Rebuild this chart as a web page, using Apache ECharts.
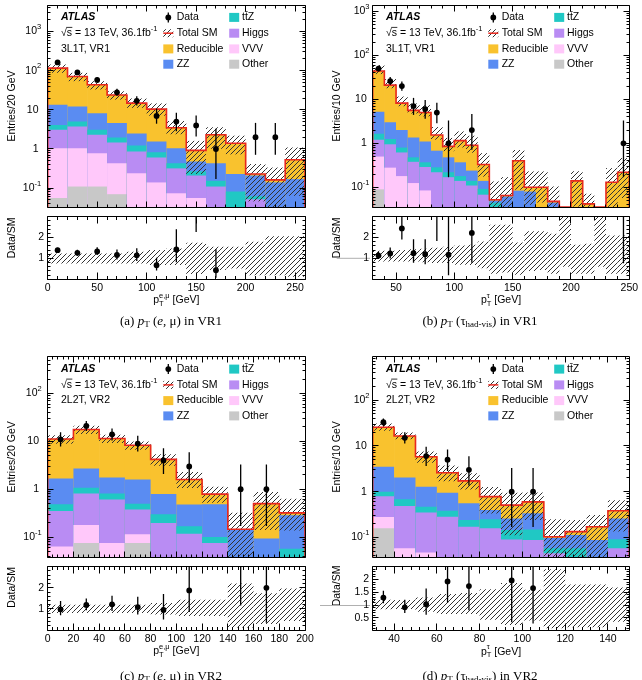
<!DOCTYPE html>
<html><head><meta charset="utf-8">
<script src="https://cdn.jsdelivr.net/npm/echarts@6.0.0/dist/echarts.min.js"></script>
<style>html,body{margin:0;padding:0;background:#fff;overflow:hidden}#chart{width:642px;height:680px}</style>
</head><body><div id="chart"></div>
<script>
// ================= DATA =================
// (a) pT(e,mu) in VR1, 3L1T  -- 20 GeV bins
const aEdges = [0,20,40,60,80,100,120,140,160,180,200,220,240,260];
const aOther = [0.056,0.11,0.11,0.07,0.02,0.01,0.01,0.01,0.005,0.003,0.003,0.003,0.003];
const aVVV = [0.99,0.94,0.67,0.36,0.22,0.13,0.064,0.046,0.025,0.017,0.027,0.012,0.012];
const aHiggs = [2.05,2.7,1.52,1.04,0.62,0.47,0.246,0.154,0.08,0.01,0.022,0.01,0.01];
const aTtZ = [1.0,1.25,0.8,0.5,0.37,0.22,0.11,0.06,0.044,0.052,0.01,0.005,0.005];
const aZZ = [9.3,7.2,5.1,2.63,1.27,0.72,0.62,0.21,0.276,0.148,0.148,0.11,0.14];
const aReducible = [102.6,58.8,35.3,19.4,12.3,8.85,2.45,0.44,1.87,1.17,0.02,0.023,0.36];
const aData = [162,90,58,28,17,7,5,4,1,0,2,2,0];
const aDataLo = [149.3,80.5,50.4,22.8,12.9,4.42,2.84,2.09,0.17,0,0.71,0.71,0];
const aDataHi = [175.2,100.5,66.6,34.3,22.1,10.77,8.38,7.16,3.3,0,4.64,4.64,0];
const aBandUp = [1.24,1.24,1.24,1.24,1.32,1.4,1.48,1.75,1.56,1.56,1.8,2.06,2.06];
const aBandDn = [0.76,0.76,0.76,0.76,0.76,0.68,0.68,0.25,0.44,0.52,0.2,0.2,0.12];

// (b) pT(tau_had-vis) in VR1, 3L1T -- 10 GeV bins
const bEdges = [30,40,50,60,70,80,90,100,110,120,130,140,150,160,170,180,190,200,210,220,230,240,250];
const bOther = [0.09,0.02,0.02,0.02,0.02,0.02,0.02,0.02,0.02,0.02,0.01,0.01,0.01,0.01,0.01,0.01,0,0.005,0.005,0,0.005,0.005];
const bVVV = [0.41,0.26,0.16,0.105,0.065,0.01,0.01,0.01,0.01,0.01,0.01,0.01,0.01,0.01,0.005,0.005,0,0.005,0.005,0,0.005,0.005];
const bHiggs = [0.7,0.67,0.44,0.255,0.205,0.19,0.14,0.11,0.08,0.038,0.01,0.005,0.005,0.005,0.005,0.005,0,0.005,0.005,0,0.005,0.005];
const bTtZ = [0.45,0.3,0.18,0.1,0.08,0.065,0.05,0.04,0.03,0.024,0.015,0.005,0.005,0.005,0.005,0.005,0,0.005,0.005,0,0.005,0.005];
const bZZ = [3.55,1.75,1.2,0.87,0.73,0.395,0.26,0.19,0.1,0.048,0.005,0.032,0.054,0.05,0.005,0.02,0,0.005,0.005,0,0.005,0.005];
const bReducible = [38.8,18,6.2,4.25,3.9,0.87,0.37,0.78,0.66,0.19,0.002,0.003,0.316,0.02,0.07,0.003,0,0.115,0.017,0,0.105,0.195];
const bData = [50,26,20,7,6,5,1,0,2,0,0,0,0,0,0,0,0,0,0,0,0,1];
const bDataLo = [43.0,21.0,15.6,4.42,3.62,2.84,0.17,0,0.71,0,0,0,0,0,0,0,0,0,0,0,0,0.17];
const bDataHi = [58.1,32.1,25.5,10.77,9.58,8.38,3.3,0,4.64,0,0,0,0,0,0,0,0,0,0,0,0,3.3];
const bBandUp = [1.37,1.37,1.41,1.44,1.47,1.51,1.56,1.62,1.65,1.81,2.62,2.62,1.76,2.3,2.3,2.18,3.2,1.66,1.7,3.2,2.1,2.1];
const bBandDn = [0.85,0.85,0.85,0.85,0.82,0.78,0.78,0.7,0.68,0.53,0.26,0.33,0.22,0.4,0.45,0.26,0.6,0.26,0.26,0.6,0.26,0.26];

// (c) pT(e,mu) in VR2, 2L2T -- 20 GeV bins
const cEdges = [0,20,40,60,80,100,120,140,160,180,200];
const cOther = [0.02,0.075,0.02,0.075,0.02,0.02,0.02,0.01,0.01,0.01];
const cVVV = [0.044,0.105,0.055,0.039,0.01,0.01,0.01,0.01,0.01,0.01];
const cHiggs = [0.286,0.63,0.535,0.262,0.168,0.088,0.045,0.01,0.01,0.01];
const cTtZ = [0.135,0.26,0.2,0.124,0.102,0.05,0.025,0.005,0.005,0.027];
const cZZ = [1.185,1.63,0.94,1.1,0.49,0.312,0.385,0.111,0.058,0.229];
const cReducible = [9.53,15,9.75,6.7,3.41,1.12,0.305,0,0.407,0.034];
const cData = [11,21,14,9,4,3,0,1,1,0];
const cDataLo = [7.8,16.5,10.4,6.1,2.09,1.37,0,0.17,0.17,0];
const cDataHi = [15.4,26.5,18.6,13.1,7.16,5.92,0,3.3,3.3,0];
const cBandUp = [1.2,1.2,1.2,1.2,1.28,1.43,1.43,2.2,1.74,1.97];
const cBandDn = [0.8,0.8,0.8,0.8,0.74,0.66,0.66,0.12,0.28,0.43];

// (d) pT(tau_had-vis) in VR2, 2L2T -- 10 GeV bins
const dEdges = [30,40,50,60,70,80,90,100,110,120,130,140,150];
const dOther = [0.16,0.02,0.02,0.02,0.02,0.02,0.02,0.02,0.01,0.01,0.01,0.01];
const dVVV = [0.12,0.038,0.027,0.01,0.01,0.01,0.01,0.01,0.01,0.01,0.01,0.02];
const dHiggs = [0.52,0.428,0.303,0.254,0.142,0.13,0.06,0.058,0.025,0.01,0.005,0.028];
const dTtZ = [0.2,0.194,0.12,0.101,0.068,0.09,0.056,0.062,0.013,0.028,0.005,0.033];
const dZZ = [2.5,1.37,0.82,0.565,0.316,0.15,0.114,0.19,0.039,0.055,0.058,0.169];
const dReducible = [22,14.35,4.51,1.65,1.164,0.38,0.25,0.26,0.007,0.021,0.084,0.125];
const dData = [33,15,6,5,3,0,1,1,0,0,0,0];
const dDataLo = [27.3,11.3,3.62,2.84,1.37,0,0.17,0.17,0,0,0,0];
const dDataHi = [39.8,19.8,9.58,8.38,5.92,0,3.3,3.3,0,0,0,0];
const dBandUp = [1.21,1.2,1.3,1.43,1.47,1.62,1.86,1.6,2.4,1.8,1.8,1.69];
const dBandDn = [0.84,0.85,0.74,0.65,0.65,0.43,0.22,0.4,0.1,0.13,0.13,0.35];

// tick labels
const aXLabels = [0,50,100,150,200,250];
const bXLabels = [50,100,150,200,250];
const cXLabels = [0,20,40,60,80,100,120,140,160,180,200];
const dXLabels = [40,60,80,100,120,140];
const mainYLabels = [0.1,1,10,100,1000];
const ratioYLabels = [1,2];
const ratioYLabelsD = [0.5,1,1.5,2];
const legendCol1 = ['Data','Total SM','Reducible','ZZ'];
const legendCol2 = ['tt\u0304Z','Higgs','VVV','Other'];

// ================= STYLE =================
const SANS = '"Liberation Sans", Arial, Helvetica, sans-serif';
const SERIF = '"Liberation Serif", "Times New Roman", Times, serif';
const fSans = (s, st) => (st ? st + ' ' : '') + s + 'px ' + SANS;
const fSerif = (s, st) => (st ? st + ' ' : '') + s + 'px ' + SERIF;
const STACK_COLORS = ['#c8c8c8','#ffc8fa','#b98cf3','#20c8c4','#5a8cf2','#f9c22e']; // other,vvv,higgs,ttz,zz,reducible
const RED = '#e8281e';

function makeHatch(color) {
  const s = 5, c = document.createElement('canvas'); c.width = s; c.height = s;
  const g = c.getContext('2d'); g.strokeStyle = color; g.lineWidth = 1;
  g.beginPath();
  g.moveTo(-1, s + 1); g.lineTo(s + 1, -1);
  g.moveTo(-1, 1); g.lineTo(1, -1);
  g.moveTo(s - 1, s + 1); g.lineTo(s + 1, s - 1);
  g.stroke();
  return c;
}
const HATCH_IMG = makeHatch('#333');
const hatch = () => ({image: HATCH_IMG, repeat: 'repeat'});

const panels = [
  {edges:aEdges, comps:[aOther,aVVV,aHiggs,aTtZ,aZZ,aReducible], data:aData, lo:aDataLo, hi:aDataHi, up:aBandUp, dn:aBandDn,
   L:47.7, W:257.3, mT:5, mH:202, rT:216.7, rH:62.6, xmin:0, xmax:260, ymin:0.033, ymax:4750, rmin:0, rmax:3, rMajor:1,
   xLabels:aXLabels, xMinor:10, rLabels:ratioYLabels, rMinor:0.2, yGap:9,
   region:'3L1T, VR1', ytitle:'Entries/20 GeV', xsup:'e,μ', tau:false, tag:'(a)', vr:'VR1', capX:171, capY:321.7, ytX:12, dsTop:217.5},
  {edges:bEdges, comps:[bOther,bVVV,bHiggs,bTtZ,bZZ,bReducible], data:bData, lo:bDataLo, hi:bDataHi, up:bBandUp, dn:bBandDn,
   L:372.7, W:256.6, mT:5, mH:202, rT:216.7, rH:62.6, xmin:30, xmax:250, ymin:0.0357, ymax:1390, rmin:0, rmax:3, rMajor:1,
   xLabels:bXLabels, xMinor:10, rLabels:ratioYLabels, rMinor:0.2, yGap:5.7,
   region:'3L1T, VR1', ytitle:'Entries/10 GeV', xsup:'τ', tau:true, tag:'(b)', vr:'VR1', capX:480, capY:321.7, ytX:337, dsTop:217.5},
  {edges:cEdges, comps:[cOther,cVVV,cHiggs,cTtZ,cZZ,cReducible], data:cData, lo:cDataLo, hi:cDataHi, up:cBandUp, dn:cBandDn,
   L:47.7, W:257.3, mT:356.7, mH:200.3, rT:566.7, rH:63.3, xmin:0, xmax:200, ymin:0.0384, ymax:586, rmin:0, rmax:3, rMajor:1,
   xLabels:cXLabels, xMinor:4, rLabels:ratioYLabels, rMinor:0.2, yGap:8.5,
   region:'2L2T, VR2', ytitle:'Entries/20 GeV', xsup:'e,μ', tau:false, tag:'(c)', vr:'VR2', capX:171, capY:676.7, ytX:12, dsTop:567},
  {edges:dEdges, comps:[dOther,dVVV,dHiggs,dTtZ,dZZ,dReducible], data:dData, lo:dDataLo, hi:dDataHi, up:dBandUp, dn:dBandDn,
   L:372.7, W:256.6, mT:356.7, mH:200.3, rT:566.7, rH:64, xmin:30, xmax:150, ymin:0.0375, ymax:887, rmin:0, rmax:2.5, rMajor:0.5,
   xLabels:dXLabels, xMinor:4, rLabels:ratioYLabelsD, rMinor:0.1, yGap:5.7,
   region:'2L2T, VR2', ytitle:'Entries/10 GeV', xsup:'τ', tau:true, tag:'(d)', vr:'VR2', capX:480, capY:676.7, ytX:337, dsTop:565.5}
];

// ================= HELPERS =================
const measCtx = document.createElement('canvas').getContext('2d');
function tw(t, font) { measCtx.font = font; return measCtx.measureText(t).width; }
const sn = v => Math.round(v - 0.5) + 0.5;
function total(p, i) { let s = 0; p.comps.forEach(c => { s += c[i]; }); return s; }
function txt(t, x, y, font, align, extra) {
  return Object.assign({type:'text', x:x, y:y, silent:true,
    style:{text:t, font:font, fill:'#000', textAlign:align, textVerticalAlign:'middle', align:align, verticalAlign:'middle'}}, extra || {});
}
function runEls(pieces, x, y, align) {
  const widths = pieces.map(pc => pc.t !== undefined ? tw(pc.t, pc.font) : Math.max(tw(pc.sup, pc.font), tw(pc.sub, pc.font)));
  const tot = widths.reduce((s, w) => s + w, 0);
  let cx = align === 'center' ? x - tot / 2 : (align === 'right' ? x - tot : x);
  const els = [];
  pieces.forEach((pc, i) => {
    if (pc.t !== undefined) els.push(txt(pc.t, cx, y + (pc.dy || 0), pc.font, 'left'));
    else { els.push(txt(pc.sup, cx, y + pc.dsup, pc.font, 'left')); els.push(txt(pc.sub, cx, y + pc.dsub, pc.font, 'left')); }
    cx += widths[i];
  });
  return els;
}
const ln = (xa, ya, xb, yb, color, w) => ({type:'line', silent:true, shape:{x1:xa, y1:ya, x2:xb, y2:yb}, style:{stroke:color || '#000', lineWidth:w || 1}});

// ================= RENDERERS =================
function stackItem(p) {
  return function (params, api) {
    const i = params.dataIndex, lo = p.edges[i], hi = p.edges[i + 1];
    const cums = []; let s = 0;
    p.comps.forEach(c => { s += c[i]; cums.push(s); });
    const ch = [];
    for (let k = cums.length - 1; k >= 0; k--) {
      const top = Math.min(cums[k], p.ymax);
      if (!(top > p.ymin)) continue;
      const a = api.coord([lo, p.ymin]), b = api.coord([hi, top]);
      ch.push({type:'rect', shape:{x:a[0], y:b[1], width:b[0] - a[0] + 0.6, height:a[1] - b[1]}, style:{fill:STACK_COLORS[k]}});
    }
    return {type:'group', children:ch};
  };
}
function bandItem(p) {
  return function (params, api) {
    const i = params.dataIndex, t = total(p, i);
    if (!(t > 0)) return null;
    const y0 = Math.max(t * p.dn[i], p.ymin), y1 = Math.min(t * p.up[i], p.ymax);
    if (!(y1 > y0)) return null;
    const a = api.coord([p.edges[i], y0]), b = api.coord([p.edges[i + 1], y1]);
    return {type:'rect', shape:{x:a[0], y:b[1], width:b[0] - a[0], height:a[1] - b[1]}, style:{fill:hatch(), stroke:null}};
  };
}
function redLineItem(p) {
  return function (params, api) {
    const n = p.data.length, pts = [];
    pts.push(api.coord([p.edges[0], p.ymin]));
    for (let i = 0; i < n; i++) {
      const t0 = total(p, i);
      const t = t0 > 0 ? Math.min(Math.max(t0, p.ymin), p.ymax) : p.ymin;
      pts.push(api.coord([p.edges[i], t])); pts.push(api.coord([p.edges[i + 1], t]));
    }
    pts.push(api.coord([p.edges[n], p.ymin]));
    return {type:'polyline', shape:{points:pts}, style:{stroke:RED, lineWidth:1.6, fill:null}};
  };
}
function dataItem(p) {
  return function (params, api) {
    const i = params.dataIndex, d = p.data[i];
    if (!(d > 0)) return null;
    const xc = (p.edges[i] + p.edges[i + 1]) / 2;
    const c = api.coord([xc, d]);
    const a = api.coord([xc, Math.max(p.lo[i], p.ymin)]), b = api.coord([xc, Math.min(p.hi[i], p.ymax)]);
    return {type:'group', children:[
      {type:'line', shape:{x1:c[0], y1:a[1], x2:c[0], y2:b[1]}, style:{stroke:'#000', lineWidth:1.3}},
      {type:'circle', shape:{cx:c[0], cy:c[1], r:2.9}, style:{fill:'#000'}}
    ]};
  };
}
function ratioBandItem(p) {
  return function (params, api) {
    const i = params.dataIndex;
    const y0 = Math.max(p.dn[i], p.rmin), y1 = Math.min(p.up[i], p.rmax);
    if (!(y1 > y0)) return null;
    const a = api.coord([p.edges[i], y0]), b = api.coord([p.edges[i + 1], y1]);
    return {type:'rect', shape:{x:a[0], y:b[1], width:b[0] - a[0], height:a[1] - b[1]}, style:{fill:hatch(), stroke:null}};
  };
}
function ratioDataItem(p) {
  return function (params, api) {
    const i = params.dataIndex, d = p.data[i], t = total(p, i);
    if (!(d > 0 && t > 0)) return null;
    const xc = (p.edges[i] + p.edges[i + 1]) / 2;
    const r = d / t, y0 = Math.max(p.lo[i] / t, p.rmin), y1 = Math.min(p.hi[i] / t, p.rmax);
    const ch = [];
    if (y1 > y0) {
      const a = api.coord([xc, y0]), b = api.coord([xc, y1]);
      ch.push({type:'line', shape:{x1:a[0], y1:a[1], x2:a[0], y2:b[1]}, style:{stroke:'#000', lineWidth:1.3}});
    }
    if (r > p.rmin && r < p.rmax) {
      const c = api.coord([xc, r]);
      ch.push({type:'circle', shape:{cx:c[0], cy:c[1], r:2.9}, style:{fill:'#000'}});
    }
    return {type:'group', children:ch};
  };
}
function fmtExp(e) { return e < 0 ? '-' + (-e) : String(e); }
function frameItem(p, isMain) {
  return function (params, api) {
    const ymin = isMain ? p.ymin : p.rmin, ymax = isMain ? p.ymax : p.rmax;
    const a = api.coord([p.xmin, ymin]), b = api.coord([p.xmax, ymax]);
    const x0 = sn(a[0]), x1 = sn(b[0]), yT = sn(b[1]), yB = sn(a[1]);
    const ch = [];
    const xMaj = isMain ? 6 : 7, xMin = isMain ? 3 : 3.5;
    const k0 = Math.ceil(p.xmin / p.xMinor - 1e-9), k1 = Math.floor(p.xmax / p.xMinor + 1e-9);
    for (let k = k0; k <= k1; k++) {
      const v = k * p.xMinor;
      const maj = p.xLabels.some(m => Math.abs(m - v) < 1e-6);
      const len = maj ? xMaj : xMin, x = sn(api.coord([v, ymin])[0]);
      ch.push(ln(x, yB, x, yB - len)); ch.push(ln(x, yT, x, yT + len));
    }
    if (isMain) {
      const e0 = Math.floor(Math.log10(p.ymin)), e1 = Math.ceil(Math.log10(p.ymax));
      for (let e = e0; e <= e1; e++) for (let m = 1; m <= 9; m++) {
        const v = m * Math.pow(10, e);
        if (v <= p.ymin || v >= p.ymax) continue;
        const len = m === 1 ? 6 : 3, y = sn(api.coord([p.xmin, v])[1]);
        ch.push(ln(x0, y, x0 + len, y)); ch.push(ln(x1, y, x1 - len, y));
      }
      mainYLabels.forEach(v => {
        if (v <= p.ymin || v >= p.ymax) return;
        const y = api.coord([p.xmin, v])[1], e = Math.round(Math.log10(v));
        const fL = fSans(10.5), fS = fSans(7.5);
        if (e === 0 || e === 1) ch.push(txt(e === 0 ? '1' : '10', x0 - p.yGap, y, fL, 'right'));
        else {
          const supR = x0 - p.yGap + 2.7, sw = tw(fmtExp(e), fS);
          ch.push(txt(fmtExp(e), supR, y - 4.5, fS, 'right'));
          ch.push(txt('10', supR - sw, y, fL, 'right'));
        }
      });
    } else {
      const k2 = Math.round(p.rmin / p.rMinor), k3 = Math.round(p.rmax / p.rMinor);
      for (let k = k2; k <= k3; k++) {
        const v = k * p.rMinor;
        const maj = Math.abs(v / p.rMajor - Math.round(v / p.rMajor)) < 1e-6;
        const len = maj ? 6 : 3, y = sn(api.coord([p.xmin, v])[1]);
        ch.push(ln(x0, y, x0 + len, y)); ch.push(ln(x1, y, x1 - len, y));
      }
      p.rLabels.forEach(v => {
        const y = api.coord([p.xmin, v])[1];
        ch.push(txt(String(v), x0 - 3.5, y, fSans(10.5), 'right'));
      });
      p.xLabels.forEach(v => {
        const x = api.coord([v, ymin])[0];
        ch.push(txt(String(v), x, yB + 9, fSans(10.5), 'center'));
      });
    }
    ch.push({type:'rect', shape:{x:x0, y:yT, width:x1 - x0, height:yB - yT}, style:{fill:null, stroke:'#000', lineWidth:1}});
    return {type:'group', children:ch};
  };
}

// ================= BUILD OPTION =================
const grids = [], xAxes = [], yAxes = [], series = [], graphics = [];
panels.forEach((p, k) => {
  const gm = 2 * k, gr = 2 * k + 1;
  grids.push({left:p.L, top:p.mT, width:p.W, height:p.mH, show:false});
  grids.push({left:p.L, top:p.rT, width:p.W, height:p.rH, show:false});
  xAxes.push({gridIndex:gm, type:'value', min:p.xmin, max:p.xmax, show:false});
  xAxes.push({gridIndex:gr, type:'value', min:p.xmin, max:p.xmax, show:false});
  yAxes.push({gridIndex:gm, type:'log', logBase:10, min:p.ymin, max:p.ymax, show:false});
  yAxes.push({gridIndex:gr, type:'value', min:p.rmin, max:p.rmax, show:false});
  const bins = p.data.map((d, i) => [(p.edges[i] + p.edges[i + 1]) / 2]);
  const base = (g) => ({type:'custom', xAxisIndex:g, yAxisIndex:g, silent:true, animation:false});
  series.push(Object.assign(base(gm), {data:bins, renderItem:stackItem(p), clip:true, z:1}));
  series.push(Object.assign(base(gm), {data:bins, renderItem:bandItem(p), clip:true, z:2}));
  series.push(Object.assign(base(gm), {data:[[p.xmin]], renderItem:redLineItem(p), clip:true, z:3}));
  series.push(Object.assign(base(gm), {data:bins, renderItem:dataItem(p), clip:true, z:4}));
  series.push(Object.assign(base(gm), {data:[[p.xmin]], renderItem:frameItem(p, true), clip:false, z:10}));
  series.push(Object.assign(base(gr), {data:bins, renderItem:ratioBandItem(p), clip:true, z:1}));
  series.push(Object.assign(base(gr), {data:bins, renderItem:ratioDataItem(p), clip:true, z:4}));
  series.push(Object.assign(base(gr), {data:[[p.xmin]], renderItem:frameItem(p, false), clip:false, z:10}));

  // ---- texts ----
  const L = p.L, T = p.mT, rows = [T + 12.4, T + 28.2, T + 43.9, T + 59.2];
  const FL = fSans(10.5);
  graphics.push(txt('ATLAS', L + 13.3, rows[0], fSans(10.5, 'italic bold'), 'left'));
  const rt = runEls([{t:'√s = 13 TeV, 36.1fb', font:FL}, {t:'-1', font:fSans(7.5), dy:-4}], L + 13.3, rows[1], 'left');
  rt.forEach(e => graphics.push(e));
  const sqW = tw('√', FL), sW = tw('s', FL);
  graphics.push(ln(L + 13.3 + sqW - 0.5, rows[1] - 5.8, L + 13.3 + sqW + sW + 0.3, rows[1] - 5.8, '#000', 0.8));
  graphics.push(txt(p.region, L + 13.3, rows[2], FL, 'left'));
  // legend col1
  const bx1 = L + 115.6, tx1 = L + 129, bx2 = L + 181.5, tx2 = L + 194.3;
  graphics.push({type:'line', silent:true, shape:{x1:L + 120.6, y1:rows[0] - 5, x2:L + 120.6, y2:rows[0] + 5}, style:{stroke:'#000', lineWidth:1.3}});
  graphics.push({type:'circle', silent:true, shape:{cx:L + 120.6, cy:rows[0], r:2.9}, style:{fill:'#000'}});
  graphics.push({type:'rect', silent:true, shape:{x:bx1, y:rows[1] - 4, width:10, height:8}, style:{fill:hatch()}});
  graphics.push(ln(bx1, rows[1], bx1 + 10, rows[1], RED, 1.5));
  graphics.push({type:'rect', silent:true, shape:{x:bx1, y:rows[2] - 4.5, width:10, height:9}, style:{fill:STACK_COLORS[5]}});
  graphics.push({type:'rect', silent:true, shape:{x:bx1, y:rows[3] - 4.5, width:10, height:9}, style:{fill:STACK_COLORS[4]}});
  legendCol1.forEach((s, j) => graphics.push(txt(s, tx1, rows[j], FL, 'left')));
  [3, 2, 1, 0].forEach((ci, j) => graphics.push({type:'rect', silent:true, shape:{x:bx2, y:rows[j] - 4.5, width:10, height:9}, style:{fill:STACK_COLORS[ci]}}));
  legendCol2.forEach((s, j) => graphics.push(txt(s, tx2, rows[j], FL, 'left')));
  // axis titles
  const cx = L + p.W / 2, xtY = p.rT + p.rH + 21;
  runEls([{t:'p', font:FL}, {sup:p.xsup, sub:'T', font:fSans(7.5), dsup:-4.5, dsub:3.5}, {t:' [GeV]', font:FL}], cx, xtY, 'center').forEach(e => graphics.push(e));
  graphics.push(txt(p.ytitle, p.ytX, T + p.mH / 2, FL, 'center', {rotation:Math.PI / 2}));
  graphics.push(txt('Data/SM', p.ytX, p.dsTop, FL, 'right', {rotation:Math.PI / 2}));
  // caption
  const CF = fSerif(13), CI = fSerif(13, 'italic'), CS = fSerif(9);
  const cap = p.tau
    ? [{t:p.tag + ' ', font:CF}, {t:'p', font:CI}, {t:'T', font:CS, dy:3}, {t:' (τ', font:CF}, {t:'had-vis', font:CS, dy:3}, {t:') in ' + p.vr, font:CF}]
    : [{t:p.tag + ' ', font:CF}, {t:'p', font:CI}, {t:'T', font:CS, dy:3}, {t:' (', font:CF}, {t:'e', font:CI}, {t:', μ) in ' + p.vr, font:CF}];
  runEls(cap, p.capX, p.capY, 'center').forEach(e => graphics.push(e));
});
// stray grey line fragments at left of panels (b) and (d)
graphics.push(ln(336.7, 258.3, 370, 258.3, '#b0b0b0', 1));
graphics.push(ln(320, 605.5, 370, 605.5, '#b0b0b0', 1));

const chart = echarts.init(document.getElementById('chart'), null, {renderer:'canvas', width:642, height:680});
chart.setOption({
  animation:false,
  backgroundColor:'#fff',
  grid:grids, xAxis:xAxes, yAxis:yAxes, series:series,
  graphic:{elements:graphics}
});
</script>
</body></html>
